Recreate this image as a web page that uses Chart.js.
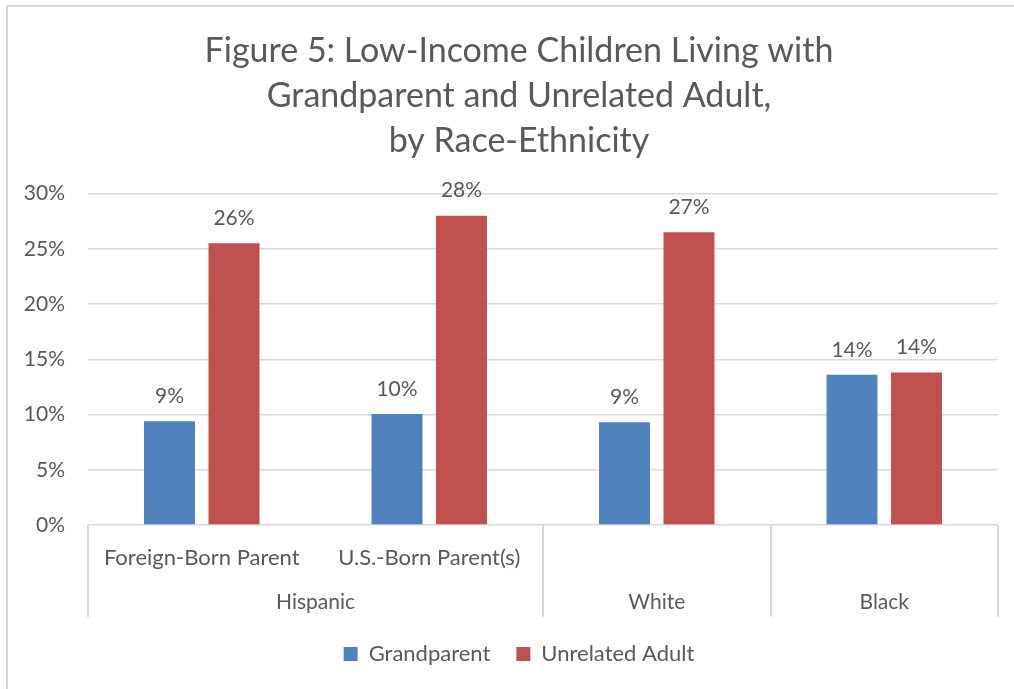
<!DOCTYPE html>
<html>
<head>
<meta charset="utf-8">
<script src="https://cdn.jsdelivr.net/npm/chart.js@4.4.1/dist/chart.umd.min.js"></script>
<style>
  html, body { margin: 0; padding: 0; background: #fff; }
  #wrap { position: relative; width: 1014px; height: 689px; }
</style>
</head>
<body>
<div id="wrap"><canvas id="chart" width="1014" height="689"></canvas></div>
<script>
const subLabels = ['Foreign-Born Parent', 'U.S.-Born Parent(s)', '', ''];
const groupNames = ['Hispanic', 'White', 'Black'];
const groupSpans = [2, 1, 1];
const grandparent = [9.4, 10.05, 9.3, 13.6];
const unrelatedAdult = [25.5, 28.0, 26.5, 13.8];
const yTicks = [0, 5, 10, 15, 20, 25, 30];

const textColor = '#595959';
const lineColor = '#d9d9d9';
const fontFamily = 'Lato, "Open Sans", sans-serif';

// light frame round the chart (only top and left show in the picture)
const framePlugin = {
    id: 'frame',
    beforeDraw(chart) {
        const ctx = chart.ctx;
        ctx.save();
        ctx.fillStyle = '#fff';
        ctx.fillRect(0, 0, chart.width, chart.height);
        ctx.strokeStyle = lineColor;
        ctx.lineWidth = 2;
        ctx.beginPath();
        ctx.moveTo(7, chart.height);
        ctx.lineTo(7, 6);
        ctx.lineTo(chart.width, 6);
        ctx.stroke();
        ctx.restore();
    }
};

// y tick labels, drawn by hand so they can sit left of the padded layout box
const yLabelPlugin = {
    id: 'yLabels',
    afterDraw(chart) {
        const y = chart.scales.y;
        const ctx = chart.ctx;
        ctx.save();
        ctx.fillStyle = textColor;
        ctx.font = '21px ' + fontFamily;
        ctx.textAlign = 'right';
        ctx.textBaseline = 'middle';
        yTicks.forEach(v => {
            ctx.fillText(v + '%', chart.chartArea.left - 23, y.getPixelForValue(v));
        });
        ctx.restore();
    }
};

// value labels above every bar
const barLabelPlugin = {
    id: 'barLabels',
    afterDatasetsDraw(chart) {
        const ctx = chart.ctx;
        ctx.save();
        ctx.fillStyle = textColor;
        ctx.font = '21px ' + fontFamily;
        ctx.textAlign = 'center';
        ctx.textBaseline = 'middle';
        chart.data.datasets.forEach((ds, i) => {
            chart.getDatasetMeta(i).data.forEach((bar, j) => {
                ctx.fillText(Math.round(ds.data[j]) + '%', bar.x, bar.y - 25);
            });
        });
        ctx.restore();
    }
};

// second row of the category axis: group names and dividers
const groupAxisPlugin = {
    id: 'groupAxis',
    afterDraw(chart) {
        const x = chart.scales.x;
        const ctx = chart.ctx;
        const w = (x.right - x.left) / subLabels.length;
        ctx.save();
        ctx.strokeStyle = lineColor;
        ctx.lineWidth = 2;
        ctx.fillStyle = textColor;
        ctx.font = '21px ' + fontFamily;
        ctx.textAlign = 'center';
        ctx.textBaseline = 'middle';
        let idx = 0;
        const edges = [x.left];
        groupNames.forEach((name, g) => {
            const start = x.left + idx * w;
            idx += groupSpans[g];
            const end = x.left + idx * w;
            edges.push(end);
            ctx.fillText(name, (start + end) / 2, x.bottom - 15);
        });
        edges.forEach(e => {
            ctx.beginPath();
            ctx.moveTo(Math.round(e), x.top);
            ctx.lineTo(Math.round(e), x.bottom);
            ctx.stroke();
        });
        ctx.restore();
    }
};

new Chart(document.getElementById('chart'), {
    type: 'bar',
    data: {
        labels: subLabels,
        datasets: [
            { label: 'Grandparent', data: grandparent, backgroundColor: '#4f81bd' },
            { label: 'Unrelated Adult', data: unrelatedAdult, backgroundColor: '#c0504d' }
        ]
    },
    options: {
        responsive: false,
        animation: false,
        layout: { padding: { left: 40, right: 16, top: 0, bottom: 14 } },
        datasets: { bar: { categoryPercentage: 0.567, barPercentage: 0.79 } },
        plugins: {
            title: {
                display: true,
                text: ['Figure 5: Low-Income Children Living with', 'Grandparent and Unrelated Adult,', 'by Race-Ethnicity'],
                color: textColor,
                font: { family: fontFamily, size: 34, weight: 'normal', lineHeight: 1.32 },
                padding: { top: 29, bottom: 30 }
            },
            legend: {
                position: 'bottom',
                labels: {
                    color: textColor,
                    font: { family: fontFamily, size: 22 },
                    boxWidth: 14,
                    boxHeight: 14,
                    padding: 26
                }
            },
            tooltip: { enabled: false }
        },
        scales: {
            x: {
                grid: { display: false },
                border: { display: false },
                ticks: {
                    color: textColor,
                    font: { family: fontFamily, size: 22 },
                    padding: 12,
                    maxRotation: 0,
                    autoSkip: false
                },
                afterFit(scale) { scale.height = 92; }
            },
            y: {
                min: 0,
                max: 30,
                grid: { color: lineColor, lineWidth: 1.5, drawTicks: false },
                border: { display: false },
                afterBuildTicks(scale) { scale.ticks = yTicks.map(v => ({ value: v })); },
                ticks: { display: false },
                afterFit(scale) { scale.width = 48; }
            }
        }
    },
    plugins: [framePlugin, yLabelPlugin, barLabelPlugin, groupAxisPlugin]
});
</script>
</body>
</html>
